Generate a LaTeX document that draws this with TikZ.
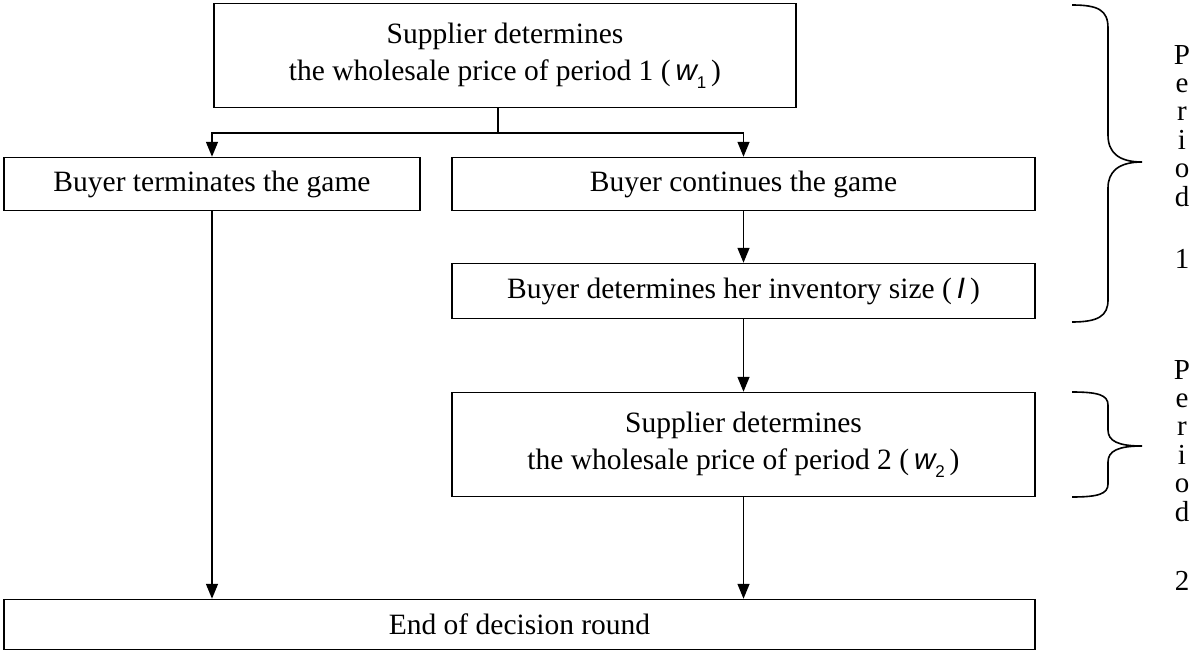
\documentclass[tikz,border=0pt]{standalone}
\usepackage{fontspec}
\setmainfont{Liberation Serif}
\newfontfamily\varsf{Liberation Sans}
\usetikzlibrary{arrows.meta}
\newcommand{\myvar}[1]{{\varsf\itshape #1}}
\newcommand{\mysub}[1]{\raisebox{-0.28em}{\varsf\fontsize{17}{17}\selectfont #1}}
\begin{document}
\begin{tikzpicture}[x=1pt,y=-1pt,
  box/.style={draw, line width=1.5pt, inner sep=0pt, align=center, font=\fontsize{29.5}{37}\selectfont},
  arr/.style={line width=1.5pt, -{Triangle[length=15pt,width=12pt]}},
  ln/.style={line width=1.5pt},
  brace/.style={line width=1.6pt},
  vlet/.style={anchor=base, inner sep=0pt, font=\fontsize{29}{29}\selectfont}]
\useasboundingbox (0,0) rectangle (1197,653);
\node[box, minimum width=582pt, minimum height=104pt] (top) at (505,55.5)
  {Supplier determines\\the wholesale price of period 1 (\,\myvar{w}\mysub{1}\,)};
\node[box, minimum width=416pt, minimum height=53pt] (term) at (212,184) {Buyer terminates the game};
\node[box, minimum width=583pt, minimum height=53pt] (cont) at (743.5,184) {Buyer continues the game};
\node[box, minimum width=583pt, minimum height=55pt] (inv) at (743.5,291) {Buyer determines her inventory size (\,\myvar{I}\,)};
\node[box, minimum width=583pt, minimum height=104pt] (sup) at (743.5,444.5)
  {Supplier determines\\the wholesale price of period 2 (\,\myvar{w}\mysub{2}\,)};
\node[box, minimum width=1031pt, minimum height=50pt] (end) at (519.5,624.5) {End of decision round};
\coordinate (j) at (498,133);
\draw[ln] (top.south -| j) -- (j);
\draw[arr] (j) -| (term.north);
\draw[arr] (j) -| (cont.north);
\draw[arr] (cont.south) -- (inv.north);
\draw[arr] (inv.south) -- (sup.north);
\draw[arr] (sup.south) -- (sup.south |- end.north);
\draw[arr] (term.south) -- (term.south |- end.north);
\draw[brace] (1072,5) .. controls (1098,5) and (1108,10) .. (1108,28) -- (1108,135)
  .. controls (1108,152) and (1118,162) .. (1142,162)
  .. controls (1118,162) and (1108,172) .. (1108,188) -- (1108,300)
  .. controls (1108,316) and (1098,322) .. (1072,322);
\draw[brace] (1072,392) .. controls (1098,392) and (1108,395) .. (1108,405) -- (1108,430)
  .. controls (1108,441) and (1118,446) .. (1142,446)
  .. controls (1118,446) and (1108,451) .. (1108,462) -- (1108,484)
  .. controls (1108,494) and (1098,497) .. (1072,497);
\foreach \ch [count=\i] in {P,e,r,i,o,d}
  \node[vlet] (pa\i) at (1182,{64+28.4*(\i-1)}) {\ch};
\node[vlet] (pa7) at (1182,268) {1};
\foreach \ch [count=\i] in {P,e,r,i,o,d}
  \node[vlet] (pb\i) at (1182,{379+28.4*(\i-1)}) {\ch};
\node[vlet] (pb7) at (1182,590) {2};
\end{tikzpicture}
\end{document}
